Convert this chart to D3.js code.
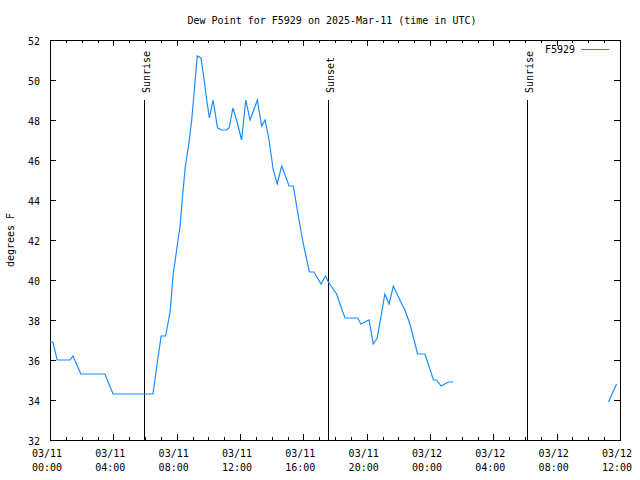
<!DOCTYPE html>
<html>
<head>
<meta charset="utf-8">
<script src="https://cdn.jsdelivr.net/npm/d3@7"></script>
<style>
  body { margin: 0; background: #fff; }
  svg { display: block; }
  text { font-family: "DejaVu Sans Mono", "Liberation Mono", monospace; font-size: 10px; fill: #000; }
</style>
</head>
<body>
<svg id="chart" width="640" height="480"></svg>
<script>
// ---- data (UTC times, dew point °F); null marks a data gap ----
const times = [
  "2025-03-11T00:00","2025-03-11T00:11","2025-03-11T00:27","2025-03-11T01:16","2025-03-11T01:27",
  "2025-03-11T01:57","2025-03-11T03:28","2025-03-11T03:59","2025-03-11T06:30","2025-03-11T07:01",
  "2025-03-11T07:18","2025-03-11T07:35","2025-03-11T07:47","2025-03-11T08:02","2025-03-11T08:13",
  "2025-03-11T08:23","2025-03-11T08:33","2025-03-11T08:46","2025-03-11T08:57","2025-03-11T09:07",
  "2025-03-11T09:18","2025-03-11T09:32","2025-03-11T09:41","2025-03-11T09:54","2025-03-11T10:04",
  "2025-03-11T10:18","2025-03-11T10:35","2025-03-11T10:51","2025-03-11T11:07","2025-03-11T11:19",
  "2025-03-11T11:33","2025-03-11T11:47","2025-03-11T12:06","2025-03-11T12:22","2025-03-11T12:38",
  "2025-03-11T13:06","2025-03-11T13:13","2025-03-11T13:22","2025-03-11T13:35","2025-03-11T13:50",
  "2025-03-11T14:06","2025-03-11T14:21","2025-03-11T14:38","2025-03-11T15:06","2025-03-11T15:22",
  "2025-03-11T15:41","2025-03-11T16:00","2025-03-11T16:23","2025-03-11T16:40","2025-03-11T17:07",
  "2025-03-11T17:24","2025-03-11T17:35","2025-03-11T18:06","2025-03-11T18:19","2025-03-11T18:38",
  "2025-03-11T19:26","2025-03-11T19:38","2025-03-11T20:09","2025-03-11T20:25","2025-03-11T20:40",
  "2025-03-11T21:09","2025-03-11T21:25","2025-03-11T21:41","2025-03-11T22:13","2025-03-11T22:25",
  "2025-03-11T22:44","2025-03-11T23:13","2025-03-11T23:41","2025-03-12T00:13","2025-03-12T00:25",
  "2025-03-12T00:42","2025-03-12T01:10","2025-03-12T01:28","2025-03-12T06:00","2025-03-12T11:16",
  "2025-03-12T11:47"
];
const dewPoint = [
  36.9, 36.9, 36.0, 36.0, 36.2,
  35.3, 35.3, 34.3, 34.3, 37.2,
  37.2, 38.4, 40.3, 41.7, 42.7,
  44.3, 45.7, 46.8, 48.0, 49.5,
  51.2, 51.1, 50.3, 49.0, 48.1,
  49.0, 47.6, 47.5, 47.5, 47.6,
  48.6, 48.0, 47.0, 49.0, 48.0,
  49.0, 48.4, 47.7, 48.0, 47.0,
  45.5, 44.8, 45.7, 44.7, 44.7,
  43.2, 41.8, 40.4, 40.4, 39.8,
  40.2, 39.9, 39.3, 38.8, 38.1,
  38.1, 37.8, 38.0, 36.8, 37.1,
  39.3, 38.8, 39.7, 38.8, 38.5,
  37.8, 36.3, 36.3, 35.0, 35.0,
  34.7, 34.9, 34.9, null, 33.9,
  34.8
];
const sunEvents = [
  { time: "2025-03-11T05:58", label: "Sunrise" },
  { time: "2025-03-11T17:35", label: "Sunset" },
  { time: "2025-03-12T06:09", label: "Sunrise" }
];
const xDomain = ["2025-03-11T00:00", "2025-03-12T12:00"];
const yTicks = [32, 34, 36, 38, 40, 42, 44, 46, 48, 50, 52];
const seriesName = "F5929";
const titleText = "Dew Point for F5929 on 2025-Mar-11 (time in UTC)";
const yLabel = "degrees F";

// ---- drawing ----
const parse = d3.utcParse("%Y-%m-%dT%H:%M");
const data = times.map((t, i) => ({ t: parse(t), v: dewPoint[i] }));

const W = 640, H = 480;
const m = { left: 50, right: 20, top: 40, bottom: 40 };
const svg = d3.select("#chart");

const x = d3.scaleUtc().domain(xDomain.map(parse)).range([m.left, W - m.right]);
const y = d3.scaleLinear().domain([32, 52]).range([H - m.bottom, m.top]);
const lineColor = "#1a8cff";

const g = svg.append("g").attr("shape-rendering", "crispEdges");

// major & minor x ticks (inward, mirrored)
const majorX = x.ticks(d3.utcHour.every(4));
const minorX = x.ticks(d3.utcHour.every(1));
const x0 = m.left, x1 = W - m.right, y0 = H - m.bottom, y1 = m.top;

minorX.forEach(t => {
  const px = Math.round(x(t)) + 0.5;
  const isMajor = t.getUTCHours() % 4 === 0;
  const len = isMajor ? 6 : 3;
  g.append("line").attr("x1", px).attr("x2", px).attr("y1", y0).attr("y2", y0 - len).attr("stroke", "#000");
  g.append("line").attr("x1", px).attr("x2", px).attr("y1", y1).attr("y2", y1 + len).attr("stroke", "#000");
});
yTicks.forEach(v => {
  const py = Math.round(y(v)) + 0.5;
  g.append("line").attr("x1", x0).attr("x2", x0 + 6).attr("y1", py).attr("y2", py).attr("stroke", "#000");
  g.append("line").attr("x1", x1).attr("x2", x1 - 6).attr("y1", py).attr("y2", py).attr("stroke", "#000");
  svg.append("text").attr("x", x0 - 10).attr("y", py + 4).attr("text-anchor", "end").text(v);
});

// x labels (two rows)
const fmtDate = d3.utcFormat("%m/%d"), fmtTime = d3.utcFormat("%H:%M");
majorX.forEach(t => {
  const px = x(t) - 3;
  svg.append("text").attr("x", px).attr("y", 457).attr("text-anchor", "middle").text(fmtDate(t));
  svg.append("text").attr("x", px).attr("y", 471).attr("text-anchor", "middle").text(fmtTime(t));
});

// border
g.append("rect").attr("x", x0 + 0.5).attr("y", y1 + 0.5).attr("width", x1 - x0).attr("height", y0 - y1)
  .attr("fill", "none").attr("stroke", "#000");

// sunrise / sunset markers
sunEvents.forEach(e => {
  const px = Math.round(x(parse(e.time))) + 0.5;
  g.append("line").attr("x1", px).attr("x2", px).attr("y1", 100).attr("y2", y0).attr("stroke", "#000");
  svg.append("text").attr("transform", `translate(${px + 5},93) rotate(-90)`)
    .attr("text-anchor", "start").text(e.label);
});

// data line
const line = d3.line().defined(d => d.v !== null).x(d => x(d.t)).y(d => y(d.v));
svg.append("path").datum(data).attr("d", line).attr("fill", "none")
  .attr("stroke", lineColor).attr("stroke-width", 1.2);

// title & axis label
svg.append("text").attr("x", 332).attr("y", 24).attr("text-anchor", "middle").text(titleText);
svg.append("text").attr("transform", `translate(14,${(y0 + y1) / 2}) rotate(-90)`)
  .attr("text-anchor", "middle").text(yLabel);

// legend
svg.append("text").attr("x", 575).attr("y", 53).attr("text-anchor", "end").text(seriesName);
g.append("line").attr("x1", 581).attr("x2", 609).attr("y1", 49.5).attr("y2", 49.5).attr("stroke", lineColor);
</script>
</body>
</html>
